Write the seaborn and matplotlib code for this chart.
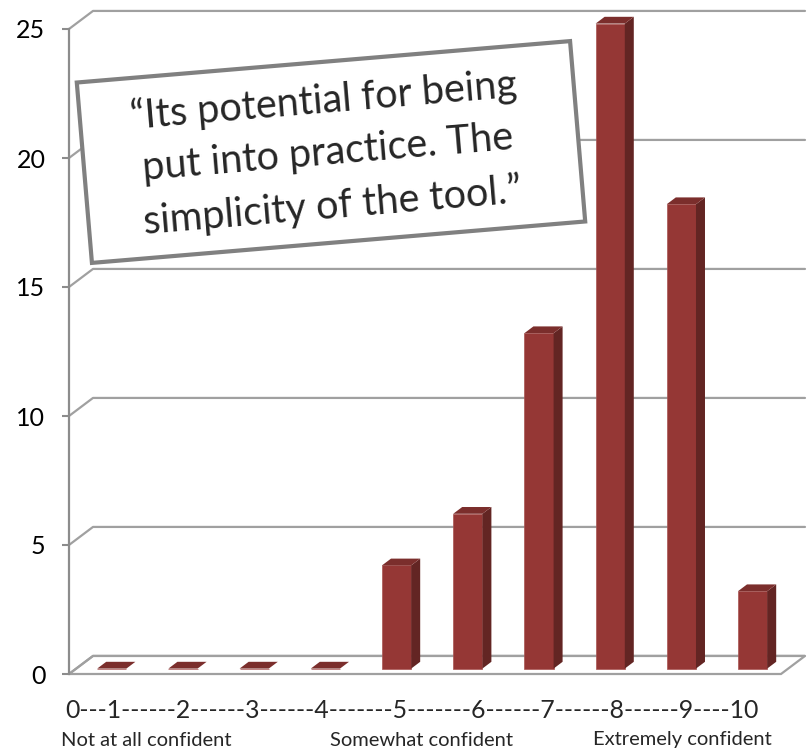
import matplotlib
matplotlib.use("Agg")
import matplotlib.pyplot as plt
import pandas as pd
import seaborn as sns
from matplotlib.patches import Polygon, Rectangle


CATEGORIES = ["1", "2", "3", "4", "5", "6", "7", "8", "9", "10"]
COUNTS = [0, 0, 0, 0, 4, 6, 13, 25, 18, 3]
Y_TICKS = [0, 5, 10, 15, 20, 25]
SCALE_LABEL = "0---1------2------3------4-------5-------6------7------8------9----10"
ANCHOR_LABELS = ["Not at all confident", "Somewhat confident", "Extremely confident"]
QUOTE = "\u201cIts potential for being\nput into practice. The\nsimplicity of the tool.\u201d"

COLOR_FRONT = "#953735"
COLOR_SIDE = "#632523"
COLOR_TOP = "#7b2e2c"
COLOR_GRID = "#a0a0a0"
COLOR_AXIS = "#8c8c8c"
COLOR_BOX = "#808080"

# fake 3d: one unit of depth moves a point this far in data units
DEPTH_DX = 0.337
DEPTH_DY = 0.70
BAR_Z0 = 0.30
BAR_DEPTH = 0.375
BAR_WIDTH = 0.41


sns.set_theme(style="white")
plt.rcParams["font.family"] = ["Lato", "DejaVu Sans"]

fig = plt.figure(figsize=(8.08, 7.5), dpi=100, facecolor="white")
ax = fig.add_axes([69 / 808, 76 / 750, 712 / 808, 645 / 750])

df = pd.DataFrame({"rating": CATEGORIES, "count": COUNTS})
sns.barplot(
    data=df,
    x="rating",
    y="count",
    order=CATEGORIES,
    color=COLOR_FRONT,
    saturation=1,
    width=BAR_WIDTH,
    ax=ax,
    zorder=4,
)

ax.set_xlim(-0.5, len(CATEGORIES) - 0.5)
ax.set_ylim(0, max(Y_TICKS))
x_left, x_right = ax.get_xlim()

# back wall gridlines + floor
for v in Y_TICKS:
    ax.plot(
        [x_left, x_left + DEPTH_DX, x_right + DEPTH_DX],
        [v, v + DEPTH_DY, v + DEPTH_DY],
        color=COLOR_GRID,
        linewidth=1.6,
        clip_on=False,
        zorder=1,
    )
floor = Polygon(
    [(x_left, 0), (x_right, 0), (x_right + DEPTH_DX, DEPTH_DY), (x_left + DEPTH_DX, DEPTH_DY)],
    closed=True,
    fill=False,
    edgecolor=COLOR_GRID,
    linewidth=1.6,
    clip_on=False,
    zorder=2,
)
ax.add_patch(floor)

# push the bars back into the floor and give them side + top faces
sx, sy = BAR_Z0 * DEPTH_DX, BAR_Z0 * DEPTH_DY
dx, dy = BAR_DEPTH * DEPTH_DX, BAR_DEPTH * DEPTH_DY
for bar in list(ax.patches):
    if bar is floor:
        continue
    x0 = bar.get_x() + sx
    y0 = bar.get_y() + sy
    w, h = bar.get_width(), bar.get_height()
    bar.set_x(x0)
    bar.set_y(y0)
    bar.set_clip_on(False)
    bar.set_edgecolor("#a85452")
    bar.set_linewidth(0.5)
    x1, y1 = x0 + w, y0 + h
    side = Polygon(
        [(x1, y0), (x1 + dx, y0 + dy), (x1 + dx, y1 + dy), (x1, y1)],
        closed=True, facecolor=COLOR_SIDE, edgecolor="none", clip_on=False, zorder=4,
    )
    top = Polygon(
        [(x0, y1), (x1, y1), (x1 + dx, y1 + dy), (x0 + dx, y1 + dy)],
        closed=True, facecolor=COLOR_TOP, edgecolor="none", clip_on=False, zorder=4,
    )
    ax.add_patch(side)
    ax.add_patch(top)

ax.set_xticks([])
ax.set_xlabel("")
ax.set_ylabel("")
ax.set_yticks(Y_TICKS)
ax.tick_params(axis="y", left=True, length=5, width=1.5, color=COLOR_AXIS,
               pad=12, labelsize=18, labelcolor="black")
for spine in ["top", "right", "bottom"]:
    ax.spines[spine].set_visible(False)
ax.spines["left"].set_color(COLOR_AXIS)
ax.spines["left"].set_linewidth(1.6)
ax.set_facecolor("none")

# scale under the floor
fig.text(412 / 808, 1 - 711 / 750, SCALE_LABEL, ha="center", va="center", fontsize=17.9)
for label, xc in zip(ANCHOR_LABELS, [146, 422, 682]):
    fig.text(xc / 808, 1 - 740 / 750, label, ha="center", va="center", fontsize=14.5)

# tilted quote box
box = Rectangle(
    (3.31 - 2.475, 5.98 - 0.905), 4.95, 1.81,
    angle=4.8, rotation_point="center",
    transform=fig.dpi_scale_trans,
    facecolor="white", edgecolor=COLOR_BOX, linewidth=3, zorder=5,
)
fig.add_artist(box)
fig.text(3.28 / 8.08, 5.97 / 7.5, QUOTE, rotation=4.8, rotation_mode="anchor",
         ha="center", va="center", multialignment="center",
         fontsize=28.5, linespacing=1.5, zorder=6)

fig.savefig("out.png", dpi=100, facecolor="white")
